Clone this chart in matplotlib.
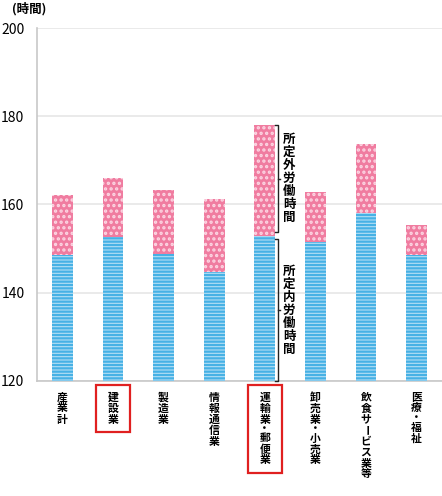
import matplotlib
matplotlib.use('Agg')
import matplotlib.pyplot as plt
from matplotlib.patches import Rectangle

plt.rcParams['font.family'] = ['Noto Sans CJK JP', 'DejaVu Sans']
plt.rcParams['hatch.linewidth'] = 1.6

# data (hours per month)
industries = ['産業計', '建設業', '製造業', '情報通信業', '運輸業・郵便業',
              '卸売業・小売業', '飲食サービス業等', '医療・福祉']
scheduled = [148.6, 152.6, 148.8, 144.7, 152.9, 151.4, 158.1, 148.6]
total = [162.2, 166.0, 163.3, 161.3, 178.0, 162.9, 173.7, 155.4]
overtime = [t - s for t, s in zip(total, scheduled)]
highlight = [1, 4]
y_ticks = [120, 140, 160, 180, 200]

fig = plt.figure(figsize=(4.42, 4.96), dpi=100)
ax = fig.add_axes([37 / 442, 1 - 381 / 496, 1 - 37 / 442, (381 - 28) / 496])

x = range(len(industries))
base = [120] * len(industries)
ax.bar(x, [s - 120 for s in scheduled], 0.41, bottom=base, color='#B3DEF4',
       edgecolor='#46B1E5', hatch='-----', linewidth=0, zorder=3)
ax.bar(x, overtime, 0.41, bottom=scheduled, color='#F07CA0',
       edgecolor='#FCD6E3', hatch='...', linewidth=0, zorder=3)

ax.set_xlim(-0.5, len(industries) - 0.5)
ax.set_ylim(120, 200)
ax.set_yticks(y_ticks)
ax.tick_params(axis='y', length=0, pad=9, labelsize=10)
ax.tick_params(axis='x', length=0, labelbottom=False)
ax.grid(axis='y', color='#E6E6E6', linewidth=1.2, zorder=0)
for side in ['top', 'right']:
    ax.spines[side].set_visible(False)
for side in ['left', 'bottom']:
    ax.spines[side].set_color('#C8C8C8')
    ax.spines[side].set_linewidth(1.2)

fig.text(12 / 442, 1 - 9 / 496, '(時間)', fontsize=9, fontweight='bold',
         va='center', ha='left')

# vertical category labels, one character per line
trans = ax.get_xaxis_transform()
for i, name in enumerate(industries):
    off = -11
    for ch in name:
        step = 8 if ch == '・' else 11
        ax.annotate(ch, xy=(i, 0), xycoords=trans, xytext=(0, off - step / 2),
                    textcoords='offset pixels', ha='center', va='center',
                    fontsize=7.8, fontweight='bold',
                    rotation=-90 if ch == 'ー' else 0,
                    annotation_clip=False)
        off -= step

for i in highlight:
    n = len(industries[i])
    h = (381 - 385) / 353
    bottom = (381 - (385 + 14 + n * 11 - (3 if '・' in industries[i] else 0))) / 353
    ax.add_patch(Rectangle((i - 0.33, bottom), 0.66, h - bottom, transform=trans,
                           fill=False, edgecolor='#E02020', linewidth=1.6,
                           clip_on=False, zorder=5))

# brackets for the 運輸業・郵便業 bar
k = 4
bx = k + 0.26
for lo, hi, label in [(scheduled[k] + 0.8, total[k], '所定外労働時間'),
                      (120, scheduled[k] - 0.8, '所定内労働時間')]:
    ax.plot([bx - 0.05, bx, bx, bx - 0.05], [hi, hi, lo, lo],
            color='#222222', linewidth=1.0, zorder=4, clip_on=False)
    mid = (lo + hi) / 2
    ax.plot([bx, bx + 0.04], [mid, mid], color='#222222', linewidth=1.0, zorder=4)
    ax.text(bx + 0.22, mid, '\n'.join(label), ha='center', va='center',
            fontsize=9, fontweight='bold', linespacing=1.0, zorder=4)

fig.savefig('out.png', dpi=100)
plt.close(fig)
